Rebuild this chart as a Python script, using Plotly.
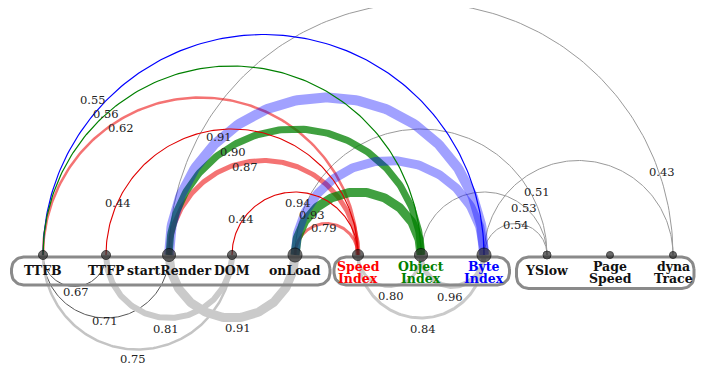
import numpy as np
import plotly.graph_objects as go

# ---------------- data ----------------
nodes = ["TTFB", "TTFP", "startRender", "DOM", "onLoad",
         "Speed Index", "Object Index", "Byte Index",
         "YSlow", "Page Speed", "dynaTrace"]
node_lines = [["TTFB"], ["TTFP"], ["startRender"], ["DOM"], ["onLoad"],
              ["Speed", "Index"], ["Object", "Index"], ["Byte", "Index"],
              ["YSlow"], ["Page", "Speed"], ["dyna", "Trace"]]
groups = [["TTFB", "TTFP", "startRender", "DOM", "onLoad"],
          ["Speed Index", "Object Index", "Byte Index"],
          ["YSlow", "Page Speed", "dynaTrace"]]

upper_src = ["TTFB", "TTFB", "TTFB", "TTFP", "startRender", "startRender", "startRender",
             "DOM", "onLoad", "onLoad", "onLoad", "onLoad", "Object Index", "Byte Index",
             "startRender", "Byte Index"]
upper_dst = ["Byte Index", "Object Index", "Speed Index", "Speed Index", "Byte Index",
             "Object Index", "Speed Index", "Speed Index", "Byte Index", "Object Index",
             "Speed Index", "YSlow", "YSlow", "YSlow", "dynaTrace", "dynaTrace"]
upper_val = [0.55, 0.56, 0.62, 0.44, 0.91, 0.90, 0.87, 0.44, 0.94, 0.93, 0.79,
             0.51, 0.53, 0.54, 0.43, None]

lower_src = ["TTFB", "TTFB", "TTFB", "TTFP", "startRender",
             "Speed Index", "Object Index", "Speed Index"]
lower_dst = ["TTFP", "startRender", "DOM", "DOM", "onLoad",
             "Object Index", "Byte Index", "Byte Index"]
lower_val = [0.67, 0.71, 0.75, 0.81, 0.91, 0.80, 0.96, 0.84]

# ---------------- styles ----------------
U = 63.0          # pixels per node step
PAGE_MARGIN = 8   # default body margin of the html page
FIG_W, FIG_H = 706 - PAGE_MARGIN, 367 - PAGE_MARGIN
X0_PX, Y0_PX = 43, 255   # screen position of first node

BLUE_T = "rgba(0,0,255,0.37)"
GREEN_T = "rgba(0,128,0,0.75)"
RED_T = "rgba(235,0,0,0.55)"
GRAY = "#9a9a9a"
upper_color = ["#0000ff", "#008000", RED_T, "#e00000", BLUE_T, GREEN_T, RED_T,
               "#e00000", BLUE_T, GREEN_T, RED_T, GRAY, GRAY, GRAY, GRAY, GRAY]
upper_width = [1.2, 1.2, 2.5, 1.1, 10, 7, 5, 1.1, 9, 9, 3, 1, 1, 1, 1, 1]
upper_lab_ang = [137.7, 131.8, 122, 155.5, 132.3, 121, 102, 146.3, 150.4, 139, 95,
                 28.5, 49.6, 89, 19, 0]
upper_lab_dr = [9.5, 0, -7.5, -1, 2, -6, -4.5, 2, 10.5, -2, -4.5, 6, -1, -1.5, 3, 0]
upper_order = [11, 12, 13, 14, 15, 2, 6, 10, 5, 9, 4, 8, 0, 1, 3, 7]

LG = "#cacaca"
lower_color = ["#555555", "#555555", "#c4c4c4", LG, LG, LG, LG, LG]
lower_width = [1, 1, 2.5, 6, 9, 3, 5, 3]
lower_lab_ang = [-87.7, -90.9, -92.5, -92.3, -85.3, -87.9, -93.4, -88.5]
lower_lab_dr = [5.5, 3, 9.6, 11, 10.2, 9.5, 10.5, 11]

node_size = [9, 9, 13, 9, 14, 11, 13, 14, 8, 7, 7]
node_font_color = ["#111"] * 5 + ["#ff0000", "#008000", "#0000ff"] + ["#111"] * 3
box_pad_l = [31.5, 24, 30.5]
box_pad_r = [35, 25.5, 21]
box_bottom = [30, 30, 33.5]
box_top = 2
box_rad = 12

def xpos(n):
    return float(nodes.index(n))

def arc(a, b, sign, n=160):
    i, j = xpos(a), xpos(b)
    c = (i + j) / 2
    r = abs(j - i) / 2
    t = np.linspace(np.pi, 0, n)
    return c + r * np.cos(t), sign * r * np.sin(t), c, r

fig = go.Figure()
annotations = []

LAB_FONT = dict(family="DejaVu Serif", size=11.5, color="#222")

# lower arcs
for k in range(len(lower_src)):
    x, y, c, r = arc(lower_src[k], lower_dst[k], -1)
    fig.add_trace(go.Scatter(x=x, y=y, mode="lines", hoverinfo="skip",
                             line=dict(color=lower_color[k], width=lower_width[k])))
    ang = np.radians(lower_lab_ang[k])
    rr = r + lower_lab_dr[k] / U
    annotations.append(dict(x=c + rr * np.cos(ang), y=rr * np.sin(ang),
                            text=f"{lower_val[k]:.2f}", showarrow=False, font=LAB_FONT))

# upper arcs
for k in upper_order:
    x, y, c, r = arc(upper_src[k], upper_dst[k], 1)
    fig.add_trace(go.Scatter(x=x, y=y, mode="lines", hoverinfo="skip",
                             line=dict(color=upper_color[k], width=upper_width[k])))
    if upper_val[k] is not None:
        ang = np.radians(upper_lab_ang[k])
        rr = r + upper_lab_dr[k] / U
        annotations.append(dict(x=c + rr * np.cos(ang), y=rr * np.sin(ang),
                                text=f"{upper_val[k]:.2f}", showarrow=False, font=LAB_FONT))

# group boxes
def rounded_rect(x0, x1, y0, y1, rad, n=12):
    xs, ys = [], []
    corners = [(x1 - rad, y1 - rad, 0, 90), (x0 + rad, y1 - rad, 90, 180),
               (x0 + rad, y0 + rad, 180, 270), (x1 - rad, y0 + rad, 270, 360)]
    for cx, cy, a0, a1 in corners:
        t = np.radians(np.linspace(a0, a1, n))
        xs.extend(cx + rad * np.cos(t))
        ys.extend(cy + rad * np.sin(t))
    xs.append(xs[0]); ys.append(ys[0])
    return xs, ys

for g, members in enumerate(groups):
    xs_m = [xpos(m) for m in members]
    x0 = min(xs_m) - box_pad_l[g] / U
    x1 = max(xs_m) + box_pad_r[g] / U
    y1 = -box_top / U
    y0 = -box_bottom[g] / U
    bx, by = rounded_rect(x0, x1, y0, y1, box_rad / U)
    fig.add_trace(go.Scatter(x=bx, y=by, mode="lines", hoverinfo="skip",
                             line=dict(color="#8a8a8a", width=3)))

# nodes
fig.add_trace(go.Scatter(x=[xpos(n) for n in nodes], y=[0] * len(nodes), mode="markers",
                         hoverinfo="skip",
                         marker=dict(size=node_size, color="#2e2e2e",
                                     line=dict(color="#000", width=1))))

for k, n in enumerate(nodes):
    lines = node_lines[k]
    if len(lines) == 1:
        ys = [-15.0 / U]
    else:
        ys = [-11.0 / U, -23.0 / U]
    for txt, yy in zip(lines, ys):
        annotations.append(dict(x=xpos(n), y=yy, text=f"<b>{txt}</b>", showarrow=False,
                                borderpad=0,
                                font=dict(family="DejaVu Serif", size=12.5,
                                          color=node_font_color[k])))

fig.update_layout(
    width=FIG_W, height=FIG_H, autosize=False,
    margin=dict(l=0, r=0, t=0, b=0),
    paper_bgcolor="white", plot_bgcolor="white",
    showlegend=False,
    xaxis=dict(range=[(PAGE_MARGIN - X0_PX) / U, (706 - X0_PX) / U],
               visible=False, fixedrange=True),
    yaxis=dict(range=[-(367 - Y0_PX) / U, (Y0_PX - PAGE_MARGIN) / U],
               visible=False, fixedrange=True),
    annotations=annotations,
)

fig.write_html("out.html")
